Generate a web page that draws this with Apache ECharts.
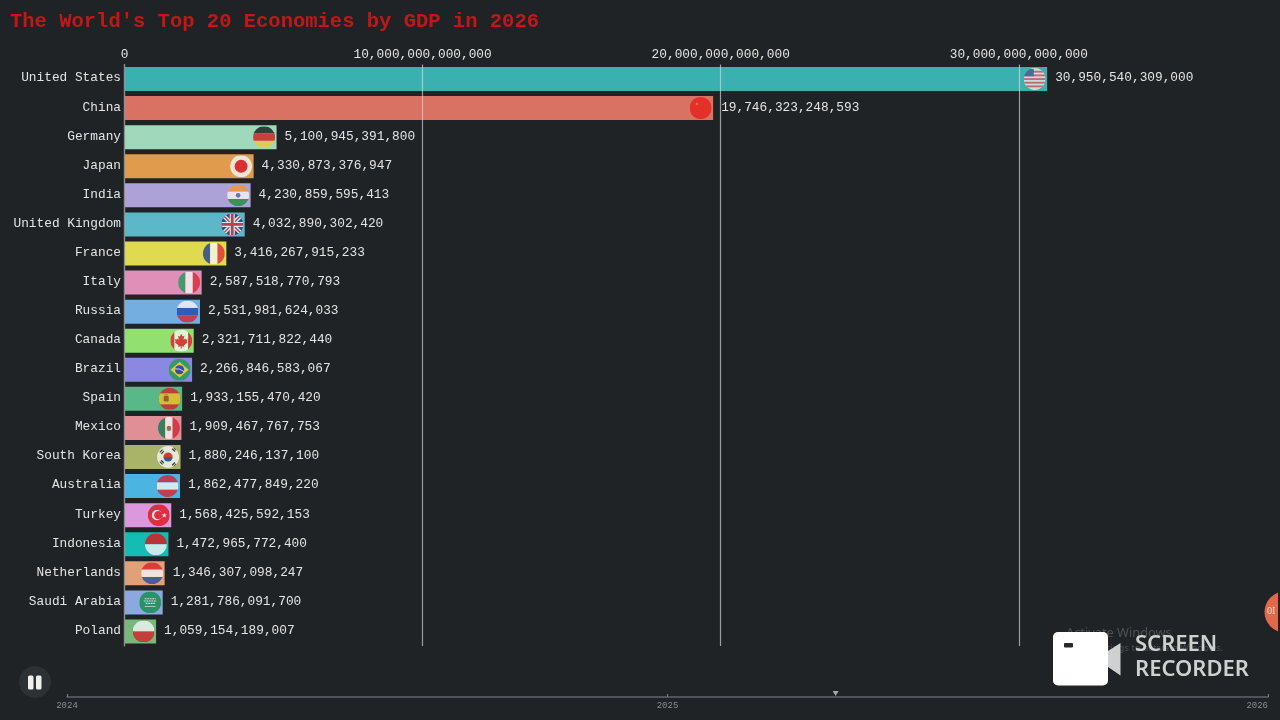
<![CDATA[<!DOCTYPE html>
<html>
<head>
<meta charset="utf-8">
<title>Top 20 Economies</title>
<style>html,body{margin:0;padding:0;background:#1f2326}#page{width:1280px;height:720px}</style>
<script src="https://cdn.jsdelivr.net/npm/echarts@6/dist/echarts.min.js"></script>
</head>
<body>
<div id="page"></div>
<script>
var countries = ['United States', 'China', 'Germany', 'Japan', 'India', 'United Kingdom', 'France', 'Italy', 'Russia', 'Canada',
    'Brazil', 'Spain', 'Mexico', 'South Korea', 'Australia', 'Turkey', 'Indonesia', 'Netherlands', 'Saudi Arabia', 'Poland'];
var gdpValues = [30950540309000, 19746323248593, 5100945391800, 4330873376947, 4230859595413, 4032890302420, 3416267915233,
    2587518770793, 2531981624033, 2321711822440, 2266846583067, 1933155470420, 1909467767753, 1880246137100, 1862477849220,
    1568425592153, 1472965772400, 1346307098247, 1281786091700, 1059154189007];
var barColors = ['#3bb0b0', '#d97263', '#a0d8bc', '#e09c4c', '#ada2d8', '#5cb8c8', '#e0da50', '#e08fb8', '#74aee0', '#92e070',
    '#8a88e0', '#58b888', '#e08f96', '#aab468', '#4cb4e0', '#dc98dc', '#14bcb4', '#e0a078', '#8ca8e0', '#78b878'];
var timelineYears = [2024, 2025, 2026];
var timelinePosition = 2025.28;

var monoFont = '"Liberation Mono", "DejaVu Sans Mono", monospace';

function hBands(a, b, c) {
    return '<rect width="48" height="16" fill="' + a + '"/><rect y="16" width="48" height="16" fill="' + b + '"/><rect y="32" width="48" height="16" fill="' + c + '"/>';
}
function vBands(a, b, c) {
    return '<rect width="16" height="48" fill="' + a + '"/><rect x="16" width="16" height="48" fill="' + b + '"/><rect x="32" width="16" height="48" fill="' + c + '"/>';
}
var usStripes = '<rect width="48" height="48" fill="#f4e4e4"/>';
[6, 14, 22, 30, 38].forEach(function (y) { usStripes += '<rect y="' + y + '" width="48" height="4" fill="#dc5a68"/>'; });

var flagArt = {
    'United States': usStripes + '<rect x="0" y="2" width="22" height="16" fill="#4a5a98"/>',
    'China': '<rect width="48" height="48" fill="#e8201c"/><circle cx="16" cy="15" r="3" fill="#e8701c"/>',
    'Germany': hBands('#1a1a1a', '#d8181c', '#f0c838'),
    'Japan': '<rect width="48" height="48" fill="#f6f6f6"/><circle cx="24" cy="24" r="14" fill="#d8142c"/>',
    'India': hBands('#f09838', '#f4f4f4', '#1f8c3c') + '<circle cx="24" cy="24" r="5" fill="#5c6aa0"/>',
    'United Kingdom': '<rect width="48" height="48" fill="#24337c"/><path d="M0 0L48 48M48 0L0 48" stroke="#f4f4f4" stroke-width="9"/><path d="M0 0L48 48M48 0L0 48" stroke="#d02038" stroke-width="3"/><path d="M24 0V48M0 24H48" stroke="#f4f4f4" stroke-width="11"/><path d="M24 0V48M0 24H48" stroke="#d02038" stroke-width="6"/>',
    'France': vBands('#20408c', '#f6f6f6', '#e02c38'),
    'Italy': vBands('#1f9c58', '#f6f6f6', '#d82c38'),
    'Russia': hBands('#f6f6f6', '#2048a8', '#d8242c'),
    'Canada': '<rect width="48" height="48" fill="#f6f6f6"/><rect width="9" height="48" fill="#d8202c"/><rect x="39" width="9" height="48" fill="#d8202c"/><path d="M24 9l3 6 4-2-2 9 4-3 1 3 4-1-2 6 2 1-8 6 1 3-6-1v5h-2v-5l-6 1 1-3-8-6 2-1-2-6 4 1 1-3 4 3-2-9 4 2z" fill="#d8202c"/>',
    'Brazil': '<rect width="48" height="48" fill="#20a048"/><path d="M24 7L44 24L24 41L4 24Z" fill="#f4d820"/><circle cx="24" cy="24" r="10" fill="#24408c"/><path d="M14 22Q24 20 34 28" stroke="#f4f4f4" stroke-width="2" fill="none"/>',
    'Spain': '<rect width="48" height="48" fill="#d8202c"/><rect y="12" width="48" height="24" fill="#f4c020"/><rect x="11" y="17" width="11" height="13" rx="3" fill="#b0402c"/><rect x="13" y="14" width="7" height="3" fill="#c89020"/>',
    'Mexico': vBands('#0f7c50', '#f6f6f6', '#d02838') + '<circle cx="24" cy="24" r="5" fill="#8c6030"/><path d="M19 28Q24 32 29 28" stroke="#2c8c50" stroke-width="2" fill="none"/>',
    'South Korea': '<rect width="48" height="48" fill="#f6f6f6"/><path d="M14 24a10 10 0 0 1 20 0z" fill="#d8202c"/><path d="M14 24a10 10 0 0 0 20 0z" fill="#24408c"/><path d="M6 14l6-6M9 17l6-6M33 6l6 6M36 3l6 6M6 34l6 6M9 31l6 6M33 42l6-6M36 45l6-6" stroke="#1a1a1a" stroke-width="2.5"/>',
    'Australia': hBands('#d8242c', '#f6f6f6', '#d8242c'),
    'Turkey': '<rect width="48" height="48" fill="#e0141c"/><circle cx="20" cy="24" r="11" fill="#f6f6f6"/><circle cx="23" cy="24" r="9" fill="#e0141c"/><path d="M36 18l1.5 4.5 4.5 0-3.6 2.8 1.3 4.5-3.7-2.7-3.7 2.7 1.3-4.5-3.6-2.8 4.5 0z" fill="#f6f6f6"/>',
    'Indonesia': '<rect width="48" height="24" fill="#e0141c"/><rect y="24" width="48" height="24" fill="#f6f6f6"/>',
    'Netherlands': hBands('#d8242c', '#f6f6f6', '#24509c'),
    'Saudi Arabia': '<rect width="48" height="48" fill="#148c48"/><path d="M12 16h24M10 21h28M14 26h20" stroke="#e8f4e8" stroke-width="2.5" stroke-dasharray="4 1.5"/><path d="M12 33h24" stroke="#e8f4e8" stroke-width="1.5"/>',
    'Poland': '<rect width="48" height="24" fill="#f6f6f6"/><rect y="24" width="48" height="24" fill="#d8202c"/>'
};

function flagSymbol(name) {
    var svg = '<svg xmlns="http://www.w3.org/2000/svg" width="96" height="96" viewBox="0 0 48 48"><clipPath id="c"><circle cx="24" cy="24" r="24"/></clipPath><g clip-path="url(#c)">' + flagArt[name] + '</g></svg>';
    return 'image://data:image/svg+xml;charset=utf-8,' + encodeURIComponent(svg);
}

var myChart = echarts.init(document.getElementById('page'), null, { renderer: 'canvas' });

var option = {
    animation: false,
    backgroundColor: '#1f2326',
    textStyle: { fontFamily: monoFont },
    title: {
        text: "The World's Top 20 Economies by GDP in 2026",
        left: 10,
        top: 11,
        padding: 0,
        textStyle: { color: '#c41616', fontSize: 20.5, fontWeight: 'bold', fontFamily: monoFont }
    },
    grid: [
        { left: 124.5, top: 64.5, width: 1132.8, height: 581.5 },
        { left: 67, top: 696, width: 1201, height: 1 }
    ],
    xAxis: [{
        type: 'value',
        gridIndex: 0,
        position: 'top',
        min: 0,
        max: 38000000000000,
        interval: 10000000000000,
        z: 5,
        axisLine: { show: false },
        axisTick: { show: false },
        axisLabel: {
            color: '#e4e4e4',
            fontSize: 12.8,
            margin: 3,
            showMaxLabel: false,
            formatter: function (v) { return v.toLocaleString('en-US'); }
        },
        splitLine: { show: true, showMaxLine: false, lineStyle: { color: 'rgba(215,215,215,0.68)', width: 1.2 } }
    }, {
        type: 'value',
        gridIndex: 1,
        position: 'bottom',
        min: timelineYears[0],
        max: timelineYears[timelineYears.length - 1],
        interval: 1,
        axisLine: { show: true, lineStyle: { color: '#62666a', width: 1.5 } },
        axisTick: { show: true, inside: true, length: 3, lineStyle: { color: '#7a7e80', width: 1 } },
        axisLabel: {
            color: '#8a8d8e',
            fontSize: 9,
            margin: 4,
            alignMaxLabel: 'right',
            formatter: function (v) { return String(v); }
        },
        splitLine: { show: false }
    }],
    yAxis: [{
        type: 'category',
        gridIndex: 0,
        inverse: true,
        data: countries,
        z: 5,
        axisLine: { show: true, lineStyle: { color: '#8c8f90', width: 1.2 } },
        axisTick: { show: false },
        axisLabel: { color: '#e4e4e4', fontSize: 12.8, margin: 3.5, verticalAlign: 'bottom', lineHeight: 2 }
    }, {
        type: 'value',
        gridIndex: 1,
        min: 0,
        max: 1,
        show: false
    }],
    series: [{
        name: 'GDP',
        type: 'bar',
        xAxisIndex: 0,
        yAxisIndex: 0,
        barWidth: 24,
        z: 2,
        data: gdpValues.map(function (v, i) {
            return { value: v, itemStyle: { color: barColors[i] } };
        }),
        label: {
            show: true,
            position: 'right',
            distance: 8,
            offset: [0, -1],
            color: '#e4e4e4',
            fontSize: 12.8,
            fontFamily: monoFont,
            formatter: function (p) { return p.value.toLocaleString('en-US'); }
        }
    }, {
        name: 'Flags',
        type: 'scatter',
        xAxisIndex: 0,
        yAxisIndex: 0,
        symbolSize: 22,
        symbolOffset: [-12.5, 0],
        z: 3,
        silent: true,
        data: gdpValues.map(function (v, i) {
            return { value: [v, countries[i]], symbol: flagSymbol(countries[i]) };
        })
    }, {
        name: 'Timeline position',
        type: 'scatter',
        xAxisIndex: 1,
        yAxisIndex: 1,
        symbol: 'triangle',
        symbolRotate: 180,
        symbolSize: [6, 5],
        symbolOffset: [0, -2.5],
        itemStyle: { color: '#c8c8c8' },
        silent: true,
        data: [[timelinePosition, 1]]
    }],
    graphic: [
        // pause button
        { type: 'circle', shape: { cx: 35, cy: 682, r: 16 }, style: { fill: '#2d3133' } },
        { type: 'rect', shape: { x: 28, y: 675.5, width: 5.5, height: 14, r: 1.5 }, style: { fill: '#f0f0f0' } },
        { type: 'rect', shape: { x: 36, y: 675.5, width: 5.5, height: 14, r: 1.5 }, style: { fill: '#f0f0f0' } },
        // desktop overlay left over in the recording
        { type: 'text', x: 1066, y: 627, style: { text: 'Activate Windows', fill: '#4e5254', font: '12.8px "Noto Sans"' } },
        { type: 'text', x: 1066, y: 643, style: { text: 'Go to Settings to activate Windows.', fill: '#4a4e50', font: '9.5px "Noto Sans"' } },
        { type: 'circle', shape: { cx: 1285, cy: 612, r: 20.5 }, style: { fill: '#e0694c' } },
        { type: 'rect', shape: { x: 1278, y: 585, width: 2, height: 55 }, style: { fill: '#1f2326' } },
        { type: 'text', x: 1267, y: 607, style: { text: '0I', fill: '#f4d8d0', font: '9px "Noto Sans"' } },
        // screen recorder watermark
        { type: 'rect', shape: { x: 1053, y: 632, width: 55, height: 53.5, r: 5 }, style: { fill: '#ffffff' } },
        { type: 'rect', shape: { x: 1064, y: 643, width: 9, height: 4.5, r: 1 }, style: { fill: '#2a2a2a' } },
        { type: 'polygon', shape: { points: [[1108, 651], [1120.5, 643], [1120.5, 675.5], [1108, 667]] }, style: { fill: '#cfd1d1' } },
        { type: 'text', x: 1135, y: 634, style: { text: 'SCREEN', fill: '#cfd1d1', font: '600 22px "Noto Sans"' } },
        { type: 'text', x: 1135, y: 659, style: { text: 'RECORDER', fill: '#cfd1d1', font: '600 22px "Noto Sans"' } }
    ]
};

myChart.setOption(option);
</script>
</body>
</html>
]]>
